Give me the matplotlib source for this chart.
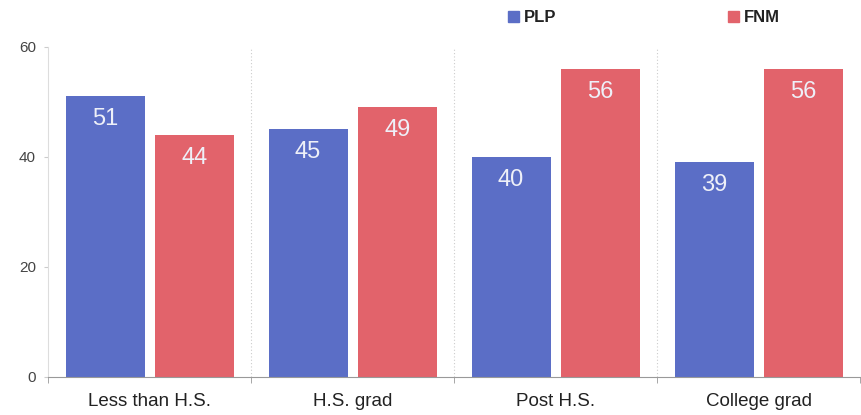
import matplotlib
matplotlib.use("Agg")
import matplotlib.pyplot as plt
from matplotlib.patches import Patch
import numpy as np

plt.rcParams["font.family"] = ["Liberation Sans", "DejaVu Sans"]

categories = ["Less than H.S.", "H.S. grad", "Post H.S.", "College grad"]
series_names = ["PLP", "FNM"]
plp = [51, 45, 40, 39]
fnm = [44, 49, 56, 56]
yticks = [0, 20, 40, 60]

blue = "#5b6ec6"
red = "#e2636b"

fig = plt.figure(figsize=(8.62, 4.15), dpi=100)
ax = fig.add_axes([0.056, 0.092, 0.942, 0.795])

x = np.arange(len(categories))
w = 0.39
off = 0.22
b1 = ax.bar(x - off, plp, w, color=blue)
b2 = ax.bar(x + off, fnm, w, color=red)

for bars, vals in ((b1, plp), (b2, fnm)):
    for rect, v in zip(bars, vals):
        ax.text(rect.get_x() + rect.get_width() / 2, v - 4.2, str(v),
                ha="center", va="center", color="#eef0f8", fontsize=17)

ax.set_xlim(-0.5, len(categories) - 0.5)
ax.set_ylim(0, 60)
ax.set_yticks(yticks)
ax.set_yticklabels([str(t) for t in yticks], color="#444444", fontsize=11)
ax.set_xticks(x)
ax.set_xticklabels(categories, fontsize=13.5, color="#222222")
ax.tick_params(axis="x", length=0, pad=12)
ax.tick_params(axis="y", length=3, color="#cccccc", pad=6)
ax.set_xticks(np.arange(-0.5, len(categories)), minor=True)
ax.tick_params(axis="x", which="minor", length=4, color="#999999")

for b in np.arange(0.5, len(categories) - 0.5):
    ax.axvline(b, color="#cccccc", lw=0.8, ls=(0, (1, 2)), zorder=0)

for s in ("top", "right"):
    ax.spines[s].set_visible(False)
ax.spines["left"].set_color("#dddddd")
ax.spines["bottom"].set_color("#999999")

handles = [Patch(color=blue, label=series_names[0]), Patch(color=red, label=series_names[1])]
leg = fig.legend(handles=handles, ncol=2, loc="center", bbox_to_anchor=(0.747, 0.958),
                 frameon=False, fontsize=12, handlelength=0.65, handleheight=0.65,
                 handletextpad=0.3, columnspacing=10.3)
for t in leg.get_texts():
    t.set_fontweight("bold")
    t.set_color("#222222")

fig.savefig("out.png", dpi=100)
